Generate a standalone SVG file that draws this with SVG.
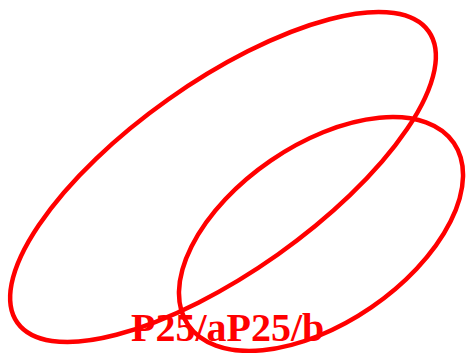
<svg xmlns="http://www.w3.org/2000/svg" width="466" height="353" viewBox="0 0 466 353">
<style>
.e{fill:none;stroke:#ff0000;stroke-width:4.5}
.t{font-family:"Liberation Serif",serif;font-weight:bold;font-size:40px;fill:#ff0000}
</style>
<rect width="466" height="353" fill="#ffffff"/>
<g id="a">
<ellipse class="e" cx="223" cy="177" rx="252" ry="95" transform="rotate(-35.3 223 177)"/>
</g>
<g id="b">
<ellipse class="e" cx="321" cy="234" rx="161" ry="89" transform="rotate(-34.4 321 234)"/>
</g>
<g id="labels">
<text class="t" x="131" y="341">P25/aP25/b</text>
</g>
</svg>
